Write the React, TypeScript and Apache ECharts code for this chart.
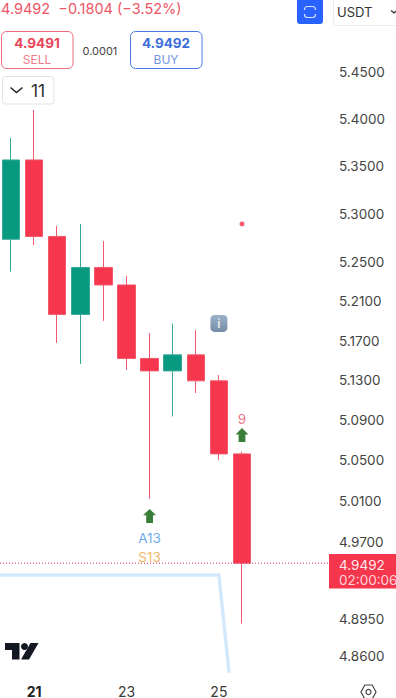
import React, { useEffect, useRef } from "react";
import * as echarts from "echarts";

const FONT = "Inter";
const UP = "#089981";
const DOWN = "#f5364c";
const UP_EDGE = "#35a994";
const DOWN_EDGE = "#f2596c";

const positions = [0, 1, 2, 3, 4, 5, 6, 7, 8, 9, 10];
const opens = [5.274, 5.3567, 5.2769, 5.1968, 5.2449, 5.2269, 5.1521, 5.1395, 5.1557, 5.1295, 5.0565];
const closes = [5.3567, 5.2769, 5.1968, 5.2449, 5.2269, 5.1521, 5.1395, 5.1557, 5.1295, 5.0565, 4.9492];
const lows = [5.2406, 5.2681, 5.1678, 5.1465, 5.1902, 5.1405, 5.012, 5.0938, 5.1173, 5.0505, 4.8909];
const highs = [5.3799, 5.4095, 5.2878, 5.2899, 5.2723, 5.2362, 5.1779, 5.1876, 5.181, 5.1353, 5.0585];

const priceTicks = [5.45, 5.4, 5.35, 5.3, 5.25, 5.21, 5.17, 5.13, 5.09, 5.05, 5.01, 4.97, 4.895, 4.86];
const dayTickPositions = [1, 5, 9];
const dayTickLabels = ["21", "23", "25"];

const lastPrice = 4.9492;
const blueLine: [number, number][] = [[-0.476, 4.9378], [9, 4.9378], [9.44, 4.8438]];
const dot: [number, number] = [10, 5.2899];
const info: [number, number] = [9, 5.1876];
const arrows: [number, number][] = [[6, 4.9953], [10, 5.0753]];
const signals: { at: [number, number]; text: string; color: string }[] = [
  { at: [6, 4.9738], text: "A13", color: "#3f93ea" },
  { at: [6, 4.9555], text: "S13", color: "#eea33e" },
  { at: [10, 5.0913], text: "9", color: "#f04f63" },
];

const ARROW = "path://M5 0 L10 5.5 L7.6 5.5 L7.6 12 L2.4 12 L2.4 5.5 L0 5.5 Z";

const txt = (x: number, y: number, text: string, fill: string, size: number, extra: any = {}) => ({
  type: "text",
  x,
  y,
  silent: true,
  style: { text, fill, fontSize: size, fontFamily: FONT, verticalAlign: "middle", align: "left", ...extra },
});

const outlined = (x: number, y: number, w: number, h: number, stroke: string, r: number) => ({
  type: "rect",
  silent: true,
  shape: { x, y, width: w, height: h, r },
  style: { fill: "#fff", stroke, lineWidth: 1 },
});

export default function App() {
  const ref = useRef<HTMLDivElement>(null);
  useEffect(() => {
    const chart = echarts.init(ref.current!, undefined, { renderer: "svg" });
    chart.setOption({
      animation: false,
      backgroundColor: "#ffffff",
      grid: { left: 0, top: 60, width: 329, height: 617, containLabel: false },
      xAxis: {
        type: "value",
        min: -0.476,
        max: 13.766,
        splitLine: { show: false },
        axisLine: { show: false },
        axisTick: { show: false },
        axisLabel: {
          customValues: dayTickPositions,
          margin: 9,
          color: "#3a3a3a",
          fontFamily: FONT,
          fontSize: 14,
          formatter: (v: number) => {
            const s = dayTickLabels[dayTickPositions.indexOf(v)] ?? "";
            return v === dayTickPositions[0] ? `{b|${s}}` : s;
          },
          rich: { b: { fontWeight: 700, fontSize: 14, fontFamily: FONT, color: "#222" } },
        },
      },
      yAxis: {
        type: "log",
        logBase: Math.E,
        position: "right",
        min: 4.8418,
        max: 5.4628,
        splitLine: { show: false },
        minorSplitLine: { show: false },
        axisLine: { show: false },
        axisTick: { show: false },
        axisLabel: {
          customValues: priceTicks,
          margin: 10,
          color: "#444",
          fontFamily: FONT,
          fontSize: 13.5,
          formatter: (v: number) => v.toFixed(4),
        },
      },
      series: [
        {
          type: "line",
          data: blueLine,
          symbol: "none",
          lineStyle: { color: "#d3e9fb", width: 3.5, join: "miter" },
          z: 1,
        },
        {
          type: "line",
          data: [[-0.476, lastPrice], [13.766, lastPrice]],
          symbol: "none",
          lineStyle: { color: "#d8325a", width: 1, type: [1, 2] },
          z: 3,
        },
        {
          type: "candlestick",
          barWidth: 18,
          data: positions.map((p, i) => [p, opens[i], closes[i], lows[i], highs[i]]),
          encode: { x: 0, y: [1, 2, 3, 4] },
          itemStyle: { color: UP, color0: DOWN, borderColor: UP_EDGE, borderColor0: DOWN_EDGE, borderWidth: 1 },
          z: 2,
        },
        {
          type: "scatter",
          data: [dot],
          symbol: "circle",
          symbolSize: 5,
          itemStyle: { color: "#f0304a" },
          z: 4,
        },
        {
          type: "scatter",
          data: arrows,
          symbol: ARROW,
          symbolSize: [13, 14],
          itemStyle: { color: "#075c08" },
          z: 4,
        },
        {
          type: "scatter",
          data: [info],
          symbol: "roundRect",
          symbolSize: 17,
          itemStyle: {
            color: { type: "linear", x: 0, y: 0, x2: 0, y2: 1, colorStops: [{ offset: 0, color: "#7f9dbc" }, { offset: 1, color: "#52708f" }] },
          },
          label: { show: true, position: "inside", formatter: "i", color: "#fff", fontSize: 12, fontWeight: 700, fontFamily: FONT },
          z: 4,
        },
        ...signals.map((s) => ({
          type: "scatter",
          data: [s.at],
          symbol: "circle",
          symbolSize: 1,
          itemStyle: { color: "rgba(0,0,0,0)" },
          label: { show: true, position: "inside", formatter: s.text, color: s.color, fontSize: 13.5, fontFamily: FONT },
          z: 4,
        })),
      ],
      graphic: [
        txt(1, 8, "4.9492  −0.1804 (−3.52%)", "#ee5666", 14.5),
        outlined(1.5, 31.5, 71.5, 37, "#ee6a78", 5),
        txt(37, 43, "4.9491", "#ea4557", 13.5, { align: "center", fontWeight: 700 }),
        txt(37, 59, "SELL", "#ef7c88", 12, { align: "center" }),
        txt(82.5, 50.5, "0.0001", "#444", 11),
        outlined(130.5, 31.5, 71.5, 37, "#4a7ae0", 5),
        txt(166, 43, "4.9492", "#3d6fdc", 13.5, { align: "center", fontWeight: 700 }),
        txt(166, 59, "BUY", "#6f96e4", 12, { align: "center" }),
        outlined(2.5, 76.5, 51.5, 27.5, "#e2e2e2", 3),
        { type: "polyline", silent: true, shape: { points: [[10.5, 87.5], [16.5, 92.5], [22.5, 87.5]] }, style: { stroke: "#222", lineWidth: 1.5, fill: "none" } },
        txt(31, 90.5, "11", "#333", 17.5),
        { type: "rect", silent: true, shape: { x: 297, y: 0, width: 26, height: 24, r: [0, 0, 3, 3] }, style: { fill: "#2962ff" } },
        { type: "rect", silent: true, shape: { x: 304.5, y: 6.5, width: 11, height: 11, r: 3 }, style: { fill: "none", stroke: "#d7e3ff", lineWidth: 1.2 } },
        { type: "rect", silent: true, shape: { x: 303, y: 10, width: 14, height: 4 }, style: { fill: "#2962ff" } },
        { type: "rect", silent: true, shape: { x: 333.5, y: -4, width: 70, height: 29.5, r: 3 }, style: { fill: "#fff", stroke: "#ececec", lineWidth: 1 } },
        txt(337, 11.5, "USDT", "#333", 13),
        { type: "polyline", silent: true, shape: { points: [[391, 10.5], [394, 13], [397, 10.5]] }, style: { stroke: "#333", lineWidth: 1.3, fill: "none" } },
        { type: "rect", silent: true, shape: { x: 329, y: 554, width: 67, height: 34.5 }, style: { fill: "#f5364c" } },
        txt(339, 564.5, "4.9492", "#ffe9ec", 13.5),
        txt(339, 579.5, "02:00:06", "#ffd3d8", 13.5),
        { type: "polygon", silent: true, shape: { points: [[5, 643], [19.5, 643], [19.5, 659.5], [12, 659.5], [12, 650], [5, 650]] }, style: { fill: "#131722" } },
        { type: "circle", silent: true, shape: { cx: 24.5, cy: 646.5, r: 3.5 }, style: { fill: "#131722" } },
        { type: "polygon", silent: true, shape: { points: [[30.5, 643], [38.5, 643], [29, 659.5], [21, 659.5]] }, style: { fill: "#131722" } },
        { type: "polygon", silent: true, shape: { points: [[361, 692], [364.8, 685], [372.2, 685], [376, 692], [372.2, 699], [364.8, 699]] }, style: { fill: "none", stroke: "#444", lineWidth: 1.2 } },
        { type: "circle", silent: true, shape: { cx: 368.5, cy: 692, r: 2.5 }, style: { fill: "none", stroke: "#444", lineWidth: 1.2 } },
      ],
    });
    return () => chart.dispose();
  }, []);
  return <div ref={ref} style={{ position: "absolute", left: 0, top: 0, width: 396, height: 698 }} />;
}
